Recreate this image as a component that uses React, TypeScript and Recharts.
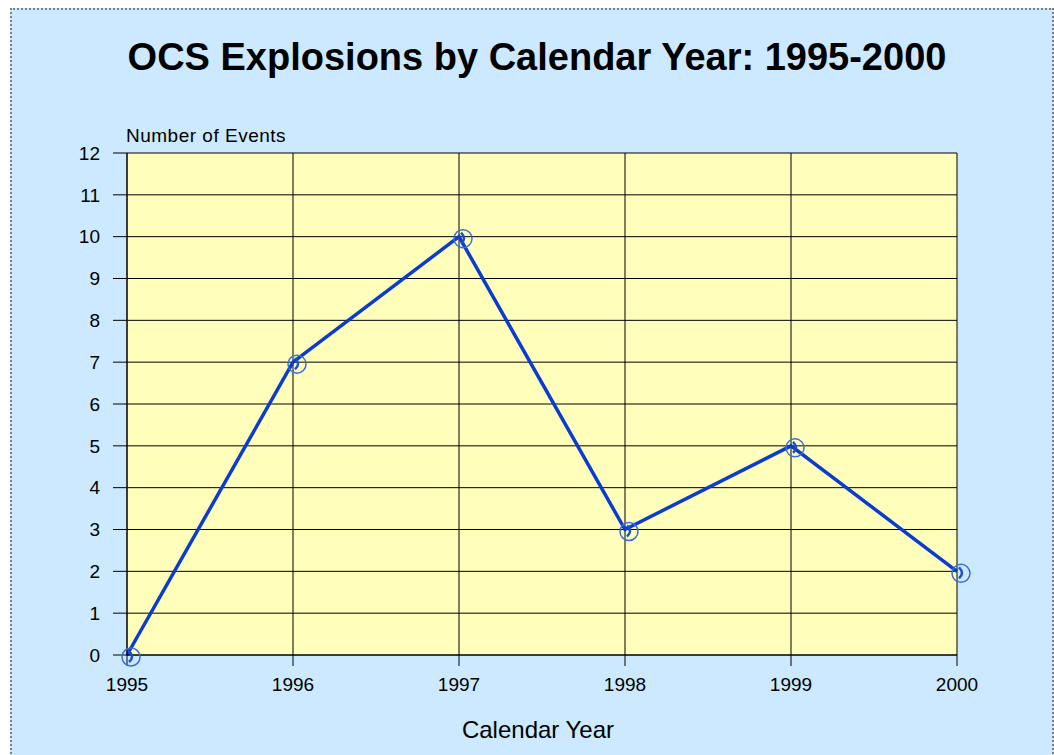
import React from "react"
import { LineChart, Line, XAxis, YAxis, CartesianGrid } from "recharts"

const years = ["1995", "1996", "1997", "1998", "1999", "2000"]
const events = [0, 7, 10, 3, 5, 2]
const yTicks = [0, 1, 2, 3, 4, 5, 6, 7, 8, 9, 10, 11, 12]

const data = years.map((year, i) => ({ year, events: events[i] }))

const font = "'Liberation Sans', Arial, sans-serif"

// circle marker with the little handset glyph the original shows
function PhoneDot(props: any) {
  const { cx, cy } = props
  if (cx == null || cy == null) return null
  return (
    <g>
      <circle cx={cx + 4} cy={cy + 2} r={9} fill="none" stroke="#3a6fd8" strokeWidth={1.5} />
      <path
        d={`M ${cx + 2} ${cy - 4} Q ${cx + 8} ${cy + 2} ${cx + 2} ${cy + 7}`}
        fill="none"
        stroke="#1a4fd0"
        strokeWidth={2.5}
      />
    </g>
  )
}

export default function App() {
  return (
    <div style={{ position: "absolute", left: 0, top: 0, width: 1054, height: 755, background: "#fff", overflow: "hidden", fontFamily: font }}>
      <div
        style={{
          position: "absolute",
          left: 10,
          top: 8,
          width: 1040,
          height: 770,
          background: "#cce9ff",
          border: "2px dotted #808080",
        }}
      />
      <div style={{ position: "absolute", left: 0, top: 0 }}>
        <LineChart width={1054} height={755} data={data} margin={{ top: 153, right: 97, left: 67, bottom: 70 }}>
          <CartesianGrid stroke="#000" strokeWidth={1} fill="#ffffbb" vertical horizontal />
          <XAxis
            dataKey="year"
            height={30}
            axisLine={{ stroke: "#000" }}
            tickLine={{ stroke: "#000" }}
            tickSize={11}
            tickMargin={12}
            tick={{ fill: "#000", fontSize: 19, fontFamily: font }}
            interval={0}
          />
          <YAxis
            width={60}
            domain={[0, 12]}
            ticks={yTicks}
            interval={0}
            axisLine={{ stroke: "#000" }}
            tickLine={{ stroke: "#000" }}
            tickSize={14}
            tickMargin={13}
            tick={{ fill: "#000", fontSize: 19, fontFamily: font }}
          />
          <Line
            type="linear"
            dataKey="events"
            stroke="#0c3ccf"
            strokeWidth={3.5}
            dot={<PhoneDot />}
            activeDot={false}
            isAnimationActive={false}
          />
        </LineChart>
      </div>
      <div
        style={{
          position: "absolute",
          left: 0,
          width: 1074,
          top: 36,
          textAlign: "center",
          fontSize: 38,
          fontWeight: "bold",
          color: "#000",
          whiteSpace: "nowrap",
        }}
      >
        OCS Explosions by Calendar Year: 1995-2000
      </div>
      <div style={{ position: "absolute", left: 126, top: 125, fontSize: 19, letterSpacing: 0.5, color: "#000", whiteSpace: "nowrap" }}>
        Number of Events
      </div>
      <div style={{ position: "absolute", left: 0, width: 1076, top: 716, textAlign: "center", fontSize: 24, color: "#000" }}>
        Calendar Year
      </div>
    </div>
  )
}
